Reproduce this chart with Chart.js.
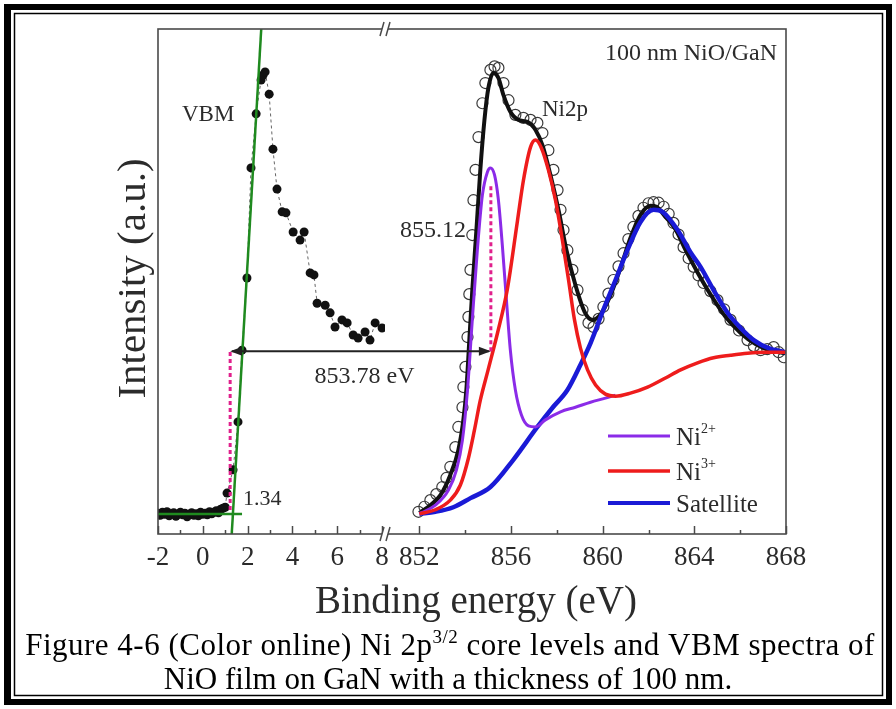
<!DOCTYPE html>
<html><head><meta charset="utf-8">
<script src="https://cdn.jsdelivr.net/npm/chart.js@4.4.1/dist/chart.umd.min.js"></script>
<style>html,body{margin:0;padding:0;background:#fff;}canvas{display:block;}</style>
</head><body>
<canvas id="c" width="896" height="709"></canvas>
<script>
// ---------- data ----------
const vbmX = [-2.0,-1.9,-1.8,-1.7,-1.6,-1.5,-1.4,-1.3,-1.2,-1.1,-1.0,-0.9,-0.8,-0.7,-0.6,-0.5,-0.4,-0.3,-0.2,-0.1,0.0,0.1,0.2,0.3,0.4,0.5,0.6,0.7,0.8,0.9,1.0,1.08,1.35,1.57,1.75,1.97,2.15,2.38,2.60,2.69,2.78,2.96,3.13,3.31,3.54,3.71,4.03,4.34,4.52,4.79,4.96,5.10,5.46,5.68,5.90,6.21,6.44,6.71,6.93,7.24,7.46,7.69,8.00,8.49];
const vbmY = [4.1,3.7,4.3,3.9,4.4,3.6,4.0,4.2,3.5,3.9,4.3,3.8,4.1,3.4,3.9,4.2,3.7,4.0,3.6,4.3,3.9,4.1,3.8,4.4,4.0,4.3,4.6,4.2,4.9,5.1,5.3,8.1,12.7,22.2,36.4,50.7,72.5,83.2,89.9,90.9,91.5,87.1,76.2,68.3,63.8,63.6,59.8,58.2,59.8,51.7,51.3,45.7,45.3,43.8,41.0,42.4,41.8,39.4,38.8,40.0,38.4,41.8,40.8,42.8];
const vbmFitX = [1.29, 2.66];
const vbmFitY = [0, 104];
const baseFitX = [-2.0, 1.75];
const baseFitY = [3.96, 3.96];

const xpsX = [851.96,852.22,852.48,852.74,853.00,853.18,853.35,853.57,853.70,853.88,853.92,854.01,854.10,854.14,854.18,854.23,854.31,854.36,854.45,854.58,854.75,854.88,855.10,855.28,855.45,855.67,855.89,856.19,856.54,856.85,857.15,857.37,857.63,857.85,858.03,858.16,858.29,858.46,858.68,858.90,859.12,859.38,859.60,859.82,860.03,860.25,860.47,860.69,860.91,861.12,861.34,861.56,861.78,862.00,862.22,862.44,862.66,862.88,863.09,863.31,863.53,863.75,863.97,864.18,864.40,864.70,865.01,865.30,865.58,865.95,866.32,866.60,866.89,867.18,867.46,867.68,867.90];
const xpsY = [4.4,5.4,6.7,7.9,9.3,11.1,13.3,17.2,21.2,25.1,29.1,33.1,39.0,43.0,47.5,52.3,59.2,66.1,72.1,78.6,85.3,89.3,91.9,92.6,92.3,89.3,85.9,83.0,82.4,82.0,81.4,79.4,76.0,72.1,68.1,64.2,60.2,56.2,52.3,48.3,44.4,41.8,41.0,42.6,45.0,47.6,50.3,53.0,55.6,58.4,60.8,63.0,64.6,65.5,65.7,65.6,64.8,63.4,61.6,59.3,56.8,54.6,52.9,51.2,49.7,48.1,46.3,44.5,42.4,40.3,38.4,37.2,36.4,36.6,37.0,36.0,35.0];

const envX = [852.0,852.48,852.92,853.35,853.70,853.92,854.05,854.18,854.31,854.49,854.66,854.84,855.01,855.23,855.45,855.67,855.97,856.32,856.72,857.07,857.37,857.72,858.07,858.42,858.81,859.21,859.55,859.90,860.34,860.78,861.21,861.65,862.09,862.35,862.74,863.18,863.62,864.14,864.71,865.36,866.02,866.67,867.33,867.98];
const envY = [4.2,5.7,7.7,11.7,16.6,22.6,28.5,38.4,48.3,60.2,72.1,82.0,88.3,91.3,90.3,86.9,83.6,82.0,81.6,80.0,77.0,71.1,64.2,56.2,49.3,44.0,42.4,43.4,47.3,52.7,58.6,63.2,65.0,64.8,62.8,60.3,56.2,51.8,47.4,43.0,39.8,37.6,36.3,35.8];

const ni2X = [852.0,852.70,853.27,853.62,853.88,854.10,854.31,854.53,854.75,854.97,855.10,855.28,855.45,855.62,855.80,855.97,856.19,856.45,856.76,857.07,857.50,858.16,858.81,859.47,860.12,860.56];
const ni2Y = [4.0,5.7,8.7,12.7,18.6,28.5,42.4,56.2,67.1,71.7,72.5,71.1,66.1,57.2,46.3,36.4,28.5,23.6,21.4,21.2,22.6,24.2,25.1,26.1,26.9,27.5];

const ni3X = [852.0,852.70,853.35,853.79,854.14,854.40,854.66,855.00,855.41,855.84,856.28,856.54,856.85,857.07,857.33,857.63,857.94,858.24,858.51,858.77,859.03,859.34,859.69,860.12,860.56,861.21,861.96,862.74,863.40,864.14,864.84,865.58,866.32,867.11,867.98];
const ni3Y = [4.0,4.8,6.7,9.7,15.0,20.5,26.5,32.5,39.8,48.5,62.0,70.0,76.6,78.0,76.4,72.1,66.1,58.2,50.3,42.4,36.8,32.5,29.5,27.7,27.3,27.9,29.1,30.9,32.5,33.9,34.9,35.4,35.8,36.0,36.0];

const satX = [852.0,852.70,853.48,854.23,855.10,856.10,857.15,857.81,858.46,859.03,859.47,860.03,860.56,861.08,861.65,862.22,862.61,863.27,863.83,864.27,864.84,865.45,866.02,866.59,867.24,867.98];
const satY = [4.0,4.4,5.3,7.1,9.3,14.7,21.2,25.0,28.5,33.5,37.8,44.4,50.3,56.2,61.8,64.2,63.8,60.2,55.8,52.9,48.3,43.8,40.8,38.4,36.8,36.0];

const vbmTicks = [-2, 0, 2, 4, 6, 8];
const vbmMinor = [-1, 1, 3, 5, 7];
const xpsTicks = [852, 856, 860, 864, 868];
const xpsMinor = [854, 858, 862, 866];

const vbmOnset = 1.22, vbmOnsetLabel = '1.34';
const ni2Peak = 855.12, ni2PeakLabel = '855.12', ni2PeakTop = 68.9;
const arrowLevel = 36.2, gapLabel = '853.78 eV';
const onsetBase = 4.75;

// ---------- helpers ----------
const pts = (xs, ys) => xs.map((x, i) => ({x: x, y: ys[i]}));
const SERIF = '"Liberation Serif", "Times New Roman", serif';

const decor = {
  id: 'decor',
  beforeDraw(chart) {
    const c = chart.ctx;
    c.save(); c.fillStyle = '#fff'; c.fillRect(0, 0, chart.width, chart.height); c.restore();
  },
  afterDraw(chart) {
    const c = chart.ctx, a = chart.chartArea;
    const s1 = chart.scales.x1, s2 = chart.scales.x2, sy = chart.scales.y;
    const L = a.left, R = a.right, T = a.top, B = a.bottom, brk = s1.right;
    c.save();

    // magenta dotted guides
    c.strokeStyle = '#e0208c'; c.lineWidth = 3; c.setLineDash([4, 3]);
    let xv = s1.getPixelForValue(vbmOnset);
    c.beginPath(); c.moveTo(xv, sy.getPixelForValue(onsetBase)); c.lineTo(xv, sy.getPixelForValue(arrowLevel)); c.stroke();
    let xp = s2.getPixelForValue(ni2Peak);
    c.beginPath(); c.moveTo(xp, sy.getPixelForValue(arrowLevel)); c.lineTo(xp, sy.getPixelForValue(ni2PeakTop)); c.stroke();
    c.setLineDash([]);

    // double arrow
    const ya = sy.getPixelForValue(arrowLevel);
    c.strokeStyle = '#222'; c.fillStyle = '#222'; c.lineWidth = 2;
    c.beginPath(); c.moveTo(xv + 2, ya); c.lineTo(xp - 2, ya); c.stroke();
    c.beginPath(); c.moveTo(xv, ya); c.lineTo(xv + 12, ya - 4.5); c.lineTo(xv + 12, ya + 4.5); c.closePath(); c.fill();
    c.beginPath(); c.moveTo(xp, ya); c.lineTo(xp - 12, ya - 4.5); c.lineTo(xp - 12, ya + 4.5); c.closePath(); c.fill();

    // frame
    c.strokeStyle = '#4a4a4a'; c.lineWidth = 1.6;
    c.strokeRect(L, T, R - L, B - T);
    // inward ticks
    const tick = (s, v, len) => { const x = Math.round(s.getPixelForValue(v)) + 0.5; c.beginPath(); c.moveTo(x, B); c.lineTo(x, B - len); c.stroke(); };
    c.lineWidth = 1.5;
    vbmTicks.forEach(v => tick(s1, v, 8));
    vbmMinor.forEach(v => tick(s1, v, 4));
    xpsTicks.forEach(v => tick(s2, v, 8));
    xpsMinor.forEach(v => tick(s2, v, 4));
    // break marks
    const mark = (y) => {
      c.fillStyle = '#fff';
      c.beginPath(); c.moveTo(brk - 5, y + 7); c.lineTo(brk - 1, y - 7); c.lineTo(brk + 5, y - 7); c.lineTo(brk + 1, y + 7); c.closePath(); c.fill();
      c.strokeStyle = '#4a4a4a'; c.lineWidth = 1.5;
      c.beginPath(); c.moveTo(brk - 5, y + 7); c.lineTo(brk - 1, y - 7); c.moveTo(brk + 1, y + 7); c.lineTo(brk + 5, y - 7); c.stroke();
    };
    mark(T); mark(B);

    // annotation texts
    c.fillStyle = '#2b2b2b'; c.textBaseline = 'alphabetic';
    c.font = '23px ' + SERIF; c.textAlign = 'left';
    c.fillText('VBM', 182, 121);
    c.font = '22px ' + SERIF;
    c.fillText(vbmOnsetLabel, 243, 505);
    c.font = '24px ' + SERIF; c.textAlign = 'center';
    c.fillText(gapLabel, (xv + xp) / 2 + 4, 383);
    c.textAlign = 'right';
    c.fillText(ni2PeakLabel, 466, 237);
    c.textAlign = 'left'; c.font = '23px ' + SERIF;
    c.fillText('Ni2p', 542, 116);
    c.font = '24px ' + SERIF; c.textAlign = 'right';
    c.fillText('100 nm NiO/GaN', 777, 60);

    // legend
    const leg = (y, color, lw, base, sup) => {
      c.strokeStyle = color; c.lineWidth = lw;
      c.beginPath(); c.moveTo(608, y); c.lineTo(670, y); c.stroke();
      c.fillStyle = '#2b2b2b'; c.textAlign = 'left';
      c.font = '25px ' + SERIF; c.fillText(base, 676, y + 9);
      if (sup) { const w = c.measureText(base).width; c.font = '14px ' + SERIF; c.fillText(sup, 676 + w, y - 3); }
    };
    leg(436, '#8b2be8', 3, 'Ni', '2+');
    leg(471, '#ee1c1c', 3.5, 'Ni', '3+');
    leg(503, '#1a1ad6', 4, 'Satellite', '');

    // axis titles
    c.fillStyle = '#2b2b2b';
    c.font = '39px ' + SERIF; c.textAlign = 'center';
    c.fillText('Binding energy (eV)', (L + R) / 2 + 4, 613);
    c.save(); c.translate(145, (T + B) / 2 - 3); c.rotate(-Math.PI / 2);
    c.font = '41px ' + SERIF; c.fillText('Intensity (a.u.)', 0, 0); c.restore();

    // caption
    c.fillStyle = '#000';
    const rich = (parts, cx, y, sp) => {
      c.letterSpacing = sp || '0px';
      let w = 0;
      parts.forEach(p => { c.font = p.f; p.w = c.measureText(p.t).width; w += p.w; });
      let x = cx - w / 2; c.textAlign = 'left';
      parts.forEach(p => { c.font = p.f; c.fillText(p.t, x, y + (p.dy || 0)); x += p.w; });
      c.letterSpacing = '0px';
    };
    const F = '31px ' + SERIF, FS = '19px ' + SERIF;
    rich([{t: 'Figure 4-6 (Color online) Ni 2p', f: F}, {t: '3/2', f: FS, dy: -12}, {t: ' core levels and VBM spectra of', f: F}], 450, 655, '0.5px');
    rich([{t: 'NiO film on GaN with a thickness of 100 nm.', f: F}], 448, 689);

    // page border (double)
    c.fillStyle = '#000';
    c.fillRect(4, 4, 888, 6);
    c.fillRect(4, 699, 888, 6);
    c.fillRect(4, 4, 7, 701);
    c.fillRect(886, 4, 6, 701);
    c.strokeStyle = '#000'; c.lineWidth = 1.5;
    c.strokeRect(14.5, 13.5, 868, 682);
    c.restore();
  }
};

const tickFont = {family: SERIF, size: 27};
const lineDs = (label, xs, ys, color, width, order) => ({
  label: label, data: pts(xs, ys), xAxisID: 'x2', yAxisID: 'y', showLine: true,
  borderColor: color, borderWidth: width, pointRadius: 0, cubicInterpolationMode: 'monotone',
  tension: 0.4, fill: false, order: order
});

new Chart(document.getElementById('c'), {
  type: 'scatter',
  data: {
    datasets: [
      {label: 'VBM fit', data: pts(vbmFitX, vbmFitY), xAxisID: 'x1', yAxisID: 'y', showLine: true, borderColor: '#1f8a1f', borderWidth: 2.5, pointRadius: 0, order: 1},
      {label: 'VBM baseline', data: pts(baseFitX, baseFitY), xAxisID: 'x1', yAxisID: 'y', showLine: true, borderColor: '#1f8a1f', borderWidth: 2.5, pointRadius: 0, order: 2},
      {label: 'VBM', data: pts(vbmX, vbmY), xAxisID: 'x1', yAxisID: 'y', showLine: true, borderColor: '#666', borderWidth: 1, borderDash: [3, 3], pointRadius: 4.5, pointBackgroundColor: '#111', pointBorderColor: '#111', pointBorderWidth: 0, order: 3},
      lineDs('Ni3+', ni3X, ni3Y, '#ee1c1c', 3.5, 4),
      lineDs('Ni2+', ni2X, ni2Y, '#8b2be8', 3, 5),
      lineDs('Satellite', satX, satY, '#1a1ad6', 4.5, 6),
      lineDs('Fit', envX, envY, '#111', 4, 7),
      {label: 'Ni2p', data: pts(xpsX, xpsY), xAxisID: 'x2', yAxisID: 'y', showLine: false, pointRadius: 5.5, pointBackgroundColor: 'rgba(255,255,255,0)', pointBorderColor: '#3a3a3a', pointBorderWidth: 1.2, order: 8}
    ]
  },
  options: {
    responsive: false, animation: false, devicePixelRatio: 1,
    layout: {padding: {left: 158, right: 110, top: 29, bottom: 135}},
    plugins: {legend: {display: false}, tooltip: {enabled: false}},
    scales: {
      x1: {type: 'linear', position: 'bottom', stack: 'bx', stackWeight: 227, min: -2, max: 8.13,
        grid: {display: false, drawTicks: false}, border: {display: false},
        ticks: {stepSize: 2, includeBounds: false, autoSkip: false, maxRotation: 0, padding: 8, color: '#2b2b2b', font: tickFont, callback: v => String(v)},
        afterFit: s => { s.height = 40; }},
      x2: {type: 'linear', position: 'bottom', stack: 'bx', stackWeight: 401, min: 850.5, max: 868,
        grid: {display: false, drawTicks: false}, border: {display: false},
        ticks: {stepSize: 4, includeBounds: false, autoSkip: false, maxRotation: 0, padding: 8, color: '#2b2b2b', font: tickFont, callback: v => String(v)},
        afterFit: s => { s.height = 40; }},
      y: {type: 'linear', display: false, min: 0, max: 100}
    }
  },
  plugins: [decor]
});
</script>
</body></html>
